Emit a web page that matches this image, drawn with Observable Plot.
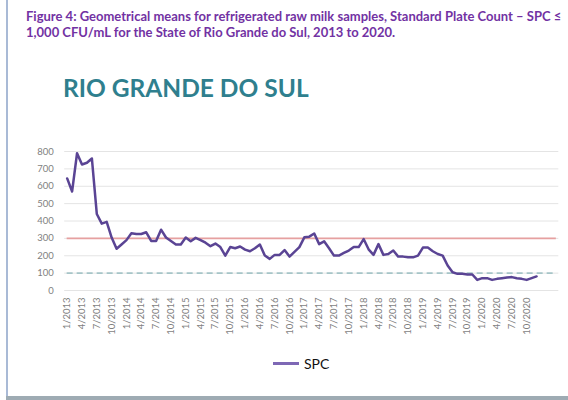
<!DOCTYPE html>
<html>
<head>
<meta charset="utf-8">
<script src="https://cdn.jsdelivr.net/npm/d3@7"></script>
<script src="https://cdn.jsdelivr.net/npm/@observablehq/plot@0.6"></script>
<style>
  html, body { margin: 0; padding: 0; background: #fff; }
  #wrap { position: relative; width: 568px; height: 400px; overflow: hidden; font-family: Lato, "Open Sans", sans-serif; }
  #leftBorder { position: absolute; left: 6px; top: 0; width: 2px; height: 400px; background: #a9bad6; }
  #bottomBorder { position: absolute; left: 6px; top: 396px; width: 562px; height: 4px; background: #9eabb3; }
  #caption { position: absolute; left: 26px; top: 8px; width: 700px; font-size: 13px; line-height: 16px; font-weight: bold; color: #7232a3; white-space: nowrap; }
  #title { position: absolute; left: 63px; top: 73px; font-size: 24.5px; font-weight: bold; color: #2f7f8e; white-space: nowrap; }
  #chart { position: absolute; left: 0; top: 140px; }
  #legend { position: absolute; left: 273px; top: 355px; display: flex; align-items: center; font-size: 14px; color: #111; }
  #legend .sw { width: 26px; height: 3px; background: #7e68b5; margin-right: 5px; }
</style>
</head>
<body>
<div id="wrap">
  <div id="leftBorder"></div>
  <div id="bottomBorder"></div>
  <div id="caption">Figure 4: Geometrical means for refrigerated raw milk samples, Standard Plate Count – SPC ≤<br>1,000 CFU/mL for the State of Rio Grande do Sul, 2013 to 2020.</div>
  <div id="title">RIO GRANDE DO SUL</div>
  <div id="chart"></div>
  <div id="legend"><div class="sw"></div><span>SPC</span></div>
</div>
<script>
// Monthly SPC geometric means (x 1,000 CFU/mL), 1/2013 .. 12/2020
const spc = [
  645, 570, 790, 725, 735, 760, 440, 385, 395, 305, 240, 265,
  290, 330, 325, 325, 335, 285, 285, 350, 305, 285, 265, 265,
  305, 283, 303, 290, 275, 255, 270, 250, 201, 250, 243, 253,
  235, 226, 243, 265, 201, 182, 205, 205, 233, 195, 222, 250,
  306, 310, 328, 267, 283, 243, 201, 201, 216, 230, 250, 250,
  296, 237, 205, 267, 205, 210, 230, 195, 195, 191, 191, 201,
  247, 247, 226, 210, 201, 144, 105, 96, 96, 92, 92, 61,
  71, 71, 61, 67, 71, 75, 77, 71, 67, 61, 71, 81
];
const xLabels = [
  "1/2013","4/2013","7/2013","10/2013",
  "1/2014","4/2014","7/2014","10/2014",
  "1/2015","4/2015","7/2015","10/2015",
  "1/2016","4/2016","7/2016","10/2016",
  "1/2017","4/2017","7/2017","10/2017",
  "1/2018","4/2018","7/2018","10/2018",
  "1/2019","4/2019","7/2019","10/2019",
  "1/2020","4/2020","7/2020","10/2020"
];
const yTicks = [0, 100, 200, 300, 400, 500, 600, 700, 800];
const limitRed = [300];
const limitDashed = [100];
const categoryCount = 100;

const data = spc.map((v, i) => ({i, v}));
const tickIdx = xLabels.map((_, k) => k * 3);

const chart = Plot.plot({
  width: 568,
  height: 200,
  marginTop: 11,
  marginBottom: 50,
  marginLeft: 64.2,
  marginRight: 9.7,
  x: {type: "linear", domain: [-0.5, categoryCount - 0.5], ticks: tickIdx, tickFormat: d => xLabels[Math.round(d / 3)], tickRotate: -90, tickSize: 0, tickPadding: 7, label: null},
  y: {domain: [0, 800], ticks: yTicks, tickSize: 0, tickPadding: 11, label: null},
  style: {fontFamily: "Lato, 'Open Sans', sans-serif", fontSize: "9.5px", color: "#7f7f7f", background: "transparent"},
  marks: [
    Plot.ruleY(yTicks, {stroke: "#e4e4e4", strokeWidth: 1}),
    Plot.ruleY(limitRed, {x1: 0, x2: categoryCount - 1, stroke: "#e6a0a0", strokeWidth: 1.6}),
    Plot.ruleY(limitDashed, {x1: 0, x2: categoryCount - 1, stroke: "#a6c5c8", strokeWidth: 1.6, strokeDasharray: "6,4"}),
    Plot.lineY(data, {x: "i", y: "v", stroke: "#5a4494", strokeWidth: 2.5, strokeLinejoin: "round"})
  ]
});
document.getElementById("chart").appendChild(chart);
</script>
</body>
</html>
